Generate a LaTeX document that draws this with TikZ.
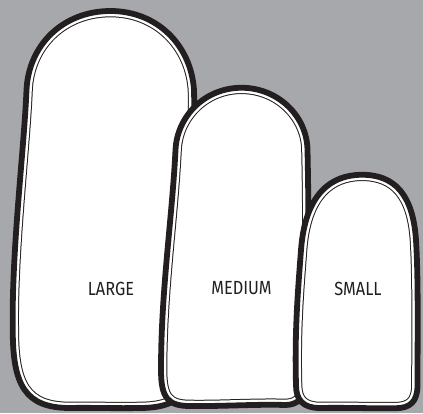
\documentclass[tikz,border=0pt]{standalone}
\usepackage{fontspec}
\setmainfont{Fira Sans}[FakeStretch=0.86]
\definecolor{bg}{HTML}{A7A8AC}
\definecolor{ink}{HTML}{231F20}
\def\pL{(110.5,11) .. controls (157,11) and (191,45) .. (194,90) .. controls (195.5,150) and (191,250) .. (188,380) .. controls (186,398) and (170,408) .. (140,408) .. controls (110,408.5) and (90,407.5) .. (70,408) .. controls (25,408) and (12.75,385) .. (12.75,330) .. controls (11.5,250) and (24,150) .. (26.5,90) .. controls (28.5,45) and (63,11) .. (110.5,11) -- cycle}
\def\pM{(241.5,87.75) .. controls (278,87.75) and (307,116) .. (307.5,150) .. controls (309,220) and (309,300) .. (306,380) .. controls (305,398) and (298,405) .. (285,405) .. controls (260,404) and (220,406.5) .. (190,406) .. controls (168,406) and (161,398) .. (161,370) .. controls (161,290) and (172,220) .. (175.5,150) .. controls (177,116) and (205,87.75) .. (241.5,87.75) -- cycle}
\def\pS{(362,174.75) .. controls (395,174.75) and (413,195) .. (416,240) .. controls (418.5,280) and (417.5,340) .. (417.5,385) .. controls (417.5,402) and (410,408.25) .. (395,408.25) .. controls (370,408.5) and (345,407.5) .. (320,408) .. controls (303,408) and (296,400) .. (296,385) .. controls (294.5,330) and (298,290) .. (301,250) .. controls (305,195) and (330,174.75) .. (362,174.75) -- cycle}
\newcommand\sizeblob[1]{%
  \fill[white] #1;
  \begin{scope}
    \clip #1;
    \draw[ink, line width=12.6] #1;
    \draw[white, line width=10.6] #1;
  \end{scope}
  \draw[ink, line width=5.8] #1;
}
\begin{document}
\begin{tikzpicture}[x=1pt, y=-1pt,
  lbl/.style={text=ink, font=\fontsize{19}{19}\selectfont, inner sep=0pt}]
\fill[bg] (0,0) rectangle (423,413);
\useasboundingbox (0,0) rectangle (423,413);
\sizeblob{\pL}
\sizeblob{\pM}
\sizeblob{\pS}
\node[lbl] (large) at (111,288.5) {LARGE};
\node[lbl] (medium) at (241.5,288.5) {MEDIUM};
\node[lbl] (small) at (358,288.5) {SMALL};
\end{tikzpicture}
\end{document}
